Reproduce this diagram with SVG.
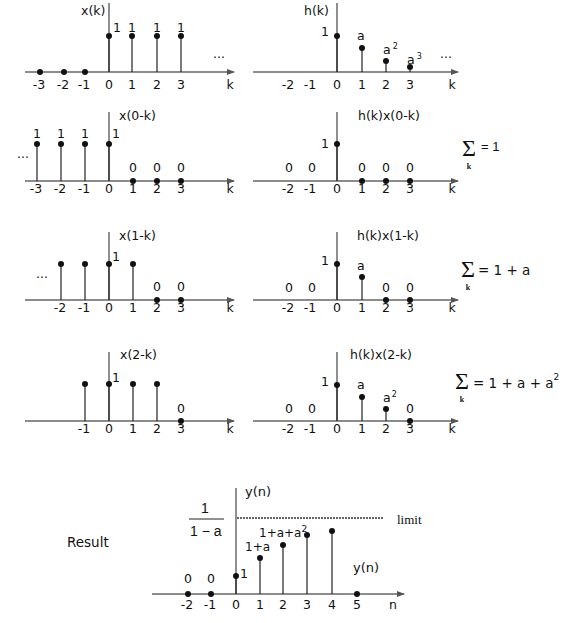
<svg xmlns="http://www.w3.org/2000/svg" width="568" height="623" viewBox="0 0 568 623">
<defs>
<marker id="arr" markerWidth="8" markerHeight="6" refX="7" refY="3" orient="auto" markerUnits="userSpaceOnUse">
<path d="M0,0 L8,3 L0,6 Z" fill="#555"/>
</marker>
<style>
.ax{stroke:#666;stroke-width:1.6;fill:none}
.yax{stroke:#444;stroke-width:1.2}
.st{stroke:#222;stroke-width:1.2}
.dot{fill:#111}
text{font-family:"DejaVu Sans","Liberation Sans",sans-serif;font-size:12.5px;fill:#111}
.m{text-anchor:middle}
.sup{font-size:8px}
.sig{font-family:"Liberation Serif",serif;font-size:24px}
.ks{font-family:"Liberation Serif",serif;font-size:8px;font-weight:bold;text-anchor:middle}
.eq{font-size:13.5px}
</style>
</defs>
<rect width="568" height="623" fill="#fff"/>

<g id="connectors">
<line class="ax" x1="25" y1="72" x2="234" y2="72" marker-end="url(#arr)"/>
<line class="ax" x1="253" y1="72" x2="458" y2="72" marker-end="url(#arr)"/>
<line class="ax" x1="25" y1="181" x2="234" y2="181" marker-end="url(#arr)"/>
<line class="ax" x1="253" y1="181" x2="458" y2="181" marker-end="url(#arr)"/>
<line class="ax" x1="25" y1="300" x2="234" y2="300" marker-end="url(#arr)"/>
<line class="ax" x1="253" y1="300" x2="458" y2="300" marker-end="url(#arr)"/>
<line class="ax" x1="25" y1="421" x2="234" y2="421" marker-end="url(#arr)"/>
<line class="ax" x1="253" y1="421" x2="458" y2="421" marker-end="url(#arr)"/>
<line class="ax" x1="152" y1="594" x2="404" y2="594" marker-end="url(#arr)"/>
</g>

<g id="panel-xk">
<line class="yax" x1="109" y1="3" x2="109" y2="72"/>
<text x="81" y="15">x(k)</text>
<line class="st" x1="109" y1="36" x2="109" y2="72"/><circle class="dot" cx="109" cy="36" r="3"/>
<line class="st" x1="132" y1="36" x2="132" y2="72"/><circle class="dot" cx="132" cy="36" r="3"/>
<line class="st" x1="157" y1="36" x2="157" y2="72"/><circle class="dot" cx="157" cy="36" r="3"/>
<line class="st" x1="181" y1="36" x2="181" y2="72"/><circle class="dot" cx="181" cy="36" r="3"/>
<circle class="dot" cx="40" cy="72" r="3"/><circle class="dot" cx="64" cy="72" r="3"/><circle class="dot" cx="85" cy="72" r="3"/>
<text x="113" y="32">1</text><text class="m" x="132" y="32">1</text><text class="m" x="157" y="32">1</text><text class="m" x="181" y="32">1</text>
<text x="213" y="58">...</text>
<text class="m" x="39" y="89">-3</text><text class="m" x="63" y="89">-2</text><text class="m" x="84" y="89">-1</text><text class="m" x="109" y="89">0</text><text class="m" x="132" y="89">1</text><text class="m" x="157" y="89">2</text><text class="m" x="181" y="89">3</text><text class="m" x="230" y="89">k</text>
</g>

<g id="panel-hk">
<line class="yax" x1="337" y1="3" x2="337" y2="72"/>
<text x="304" y="15">h(k)</text>
<line class="st" x1="337" y1="36" x2="337" y2="72"/><circle class="dot" cx="337" cy="36" r="3"/>
<line class="st" x1="362" y1="48" x2="362" y2="72"/><circle class="dot" cx="362" cy="48" r="3"/>
<line class="st" x1="386" y1="61" x2="386" y2="72"/><circle class="dot" cx="386" cy="61" r="3"/>
<line class="st" x1="410" y1="67" x2="410" y2="72"/><circle class="dot" cx="410" cy="67" r="3"/>
<text x="321" y="36">1</text>
<text x="357" y="40">a</text>
<text x="383" y="54">a<tspan class="sup" dy="-5" dx="2">2</tspan></text>
<text x="407" y="64">a<tspan class="sup" dy="-5" dx="2">3</tspan></text>
<text x="440" y="58">...</text>
<text class="m" x="288" y="89">-2</text><text class="m" x="310" y="89">-1</text><text class="m" x="337" y="89">0</text><text class="m" x="362" y="89">1</text><text class="m" x="386" y="89">2</text><text class="m" x="410" y="89">3</text><text class="m" x="452" y="89">k</text>
</g>

<g id="panel-x0k">
<line class="yax" x1="109" y1="112" x2="109" y2="181"/>
<text x="119" y="120">x(0-k)</text>
<line class="st" x1="37" y1="144" x2="37" y2="181"/><circle class="dot" cx="37" cy="144" r="3"/>
<line class="st" x1="61" y1="144" x2="61" y2="181"/><circle class="dot" cx="61" cy="144" r="3"/>
<line class="st" x1="85" y1="144" x2="85" y2="181"/><circle class="dot" cx="85" cy="144" r="3"/>
<line class="st" x1="109" y1="144" x2="109" y2="181"/><circle class="dot" cx="109" cy="144" r="3"/>
<circle class="dot" cx="133" cy="181" r="3"/><circle class="dot" cx="157" cy="181" r="3"/><circle class="dot" cx="181" cy="181" r="3"/>
<text class="m" x="37" y="138">1</text><text class="m" x="61" y="138">1</text><text class="m" x="85" y="138">1</text><text x="112" y="138">1</text>
<text class="m" x="133" y="172">0</text><text class="m" x="157" y="172">0</text><text class="m" x="181" y="172">0</text>
<text x="17" y="158">...</text>
<text class="m" x="36" y="193">-3</text><text class="m" x="60" y="193">-2</text><text class="m" x="84" y="193">-1</text><text class="m" x="109" y="193">0</text><text class="m" x="133" y="193">1</text><text class="m" x="157" y="193">2</text><text class="m" x="181" y="193">3</text><text class="m" x="230" y="193">k</text>
</g>

<g id="panel-h-x0k">
<line class="yax" x1="337" y1="112" x2="337" y2="181"/>
<text x="358" y="120">h(k)x(0-k)</text>
<line class="st" x1="337" y1="144" x2="337" y2="181"/><circle class="dot" cx="337" cy="144" r="3"/>
<circle class="dot" cx="362" cy="181" r="3"/><circle class="dot" cx="386" cy="181" r="3"/><circle class="dot" cx="410" cy="181" r="3"/>
<text x="321" y="148">1</text>
<text class="m" x="289" y="172">0</text><text class="m" x="312" y="172">0</text><text class="m" x="362" y="172">0</text><text class="m" x="386" y="172">0</text><text class="m" x="410" y="172">0</text>
<text class="m" x="288" y="193">-2</text><text class="m" x="310" y="193">-1</text><text class="m" x="337" y="193">0</text><text class="m" x="362" y="193">1</text><text class="m" x="386" y="193">2</text><text class="m" x="410" y="193">3</text><text class="m" x="452" y="193">k</text>
<text class="sig" x="462" y="156">Σ</text><text class="ks" x="469" y="169">k</text>
<text x="481" y="151" style="font-family:'Liberation Sans',sans-serif;font-size:13px">= 1</text>
</g>

<g id="panel-x1k">
<line class="yax" x1="109" y1="232" x2="109" y2="300"/>
<text x="119" y="240">x(1-k)</text>
<line class="st" x1="61" y1="264" x2="61" y2="300"/><circle class="dot" cx="61" cy="264" r="3"/>
<line class="st" x1="85" y1="264" x2="85" y2="300"/><circle class="dot" cx="85" cy="264" r="3"/>
<line class="st" x1="109" y1="264" x2="109" y2="300"/><circle class="dot" cx="109" cy="264" r="3"/>
<line class="st" x1="133" y1="264" x2="133" y2="300"/><circle class="dot" cx="133" cy="264" r="3"/>
<circle class="dot" cx="157" cy="300" r="3"/><circle class="dot" cx="181" cy="300" r="3"/>
<text x="112" y="261">1</text>
<text class="m" x="157" y="291">0</text><text class="m" x="181" y="291">0</text>
<text x="36" y="278">...</text>
<text class="m" x="60" y="312">-2</text><text class="m" x="84" y="312">-1</text><text class="m" x="109" y="312">0</text><text class="m" x="133" y="312">1</text><text class="m" x="157" y="312">2</text><text class="m" x="181" y="312">3</text><text class="m" x="230" y="312">k</text>
</g>

<g id="panel-h-x1k">
<line class="yax" x1="337" y1="232" x2="337" y2="300"/>
<text x="357" y="240">h(k)x(1-k)</text>
<line class="st" x1="337" y1="264" x2="337" y2="300"/><circle class="dot" cx="337" cy="264" r="3"/>
<line class="st" x1="362" y1="277" x2="362" y2="300"/><circle class="dot" cx="362" cy="277" r="3"/>
<circle class="dot" cx="386" cy="300" r="3"/><circle class="dot" cx="410" cy="300" r="3"/>
<text x="321" y="265">1</text>
<text x="357" y="270">a</text>
<text class="m" x="289" y="292">0</text><text class="m" x="312" y="292">0</text><text class="m" x="386" y="292">0</text><text class="m" x="410" y="292">0</text>
<text class="m" x="288" y="312">-2</text><text class="m" x="310" y="312">-1</text><text class="m" x="337" y="312">0</text><text class="m" x="362" y="312">1</text><text class="m" x="386" y="312">2</text><text class="m" x="410" y="312">3</text><text class="m" x="452" y="312">k</text>
<text class="sig" x="461" y="277">Σ</text><text class="ks" x="468" y="290">k</text>
<text class="eq" x="478" y="275">= 1 + a</text>
</g>

<g id="panel-x2k">
<line class="yax" x1="109" y1="352" x2="109" y2="421"/>
<text x="120" y="359">x(2-k)</text>
<line class="st" x1="85" y1="384" x2="85" y2="421"/><circle class="dot" cx="85" cy="384" r="3"/>
<line class="st" x1="109" y1="384" x2="109" y2="421"/><circle class="dot" cx="109" cy="384" r="3"/>
<line class="st" x1="133" y1="384" x2="133" y2="421"/><circle class="dot" cx="133" cy="384" r="3"/>
<line class="st" x1="157" y1="384" x2="157" y2="421"/><circle class="dot" cx="157" cy="384" r="3"/>
<circle class="dot" cx="181" cy="421" r="3"/>
<text x="112" y="382">1</text>
<text class="m" x="181" y="413">0</text>
<text class="m" x="84" y="433">-1</text><text class="m" x="109" y="433">0</text><text class="m" x="133" y="433">1</text><text class="m" x="157" y="433">2</text><text class="m" x="181" y="433">3</text><text class="m" x="230" y="433">k</text>
</g>

<g id="panel-h-x2k">
<line class="yax" x1="337" y1="352" x2="337" y2="421"/>
<text x="350" y="359">h(k)x(2-k)</text>
<line class="st" x1="337" y1="385" x2="337" y2="421"/><circle class="dot" cx="337" cy="385" r="3"/>
<line class="st" x1="362" y1="397" x2="362" y2="421"/><circle class="dot" cx="362" cy="397" r="3"/>
<line class="st" x1="386" y1="409" x2="386" y2="421"/><circle class="dot" cx="386" cy="409" r="3"/>
<circle class="dot" cx="410" cy="421" r="3"/>
<text x="321" y="386">1</text>
<text x="357" y="389">a</text>
<text x="383" y="402">a<tspan class="sup" dy="-5" dx="1">2</tspan></text>
<text class="m" x="289" y="413">0</text><text class="m" x="312" y="413">0</text><text class="m" x="410" y="413">0</text>
<text class="m" x="288" y="433">-2</text><text class="m" x="310" y="433">-1</text><text class="m" x="337" y="433">0</text><text class="m" x="362" y="433">1</text><text class="m" x="386" y="433">2</text><text class="m" x="410" y="433">3</text><text class="m" x="452" y="433">k</text>
<text class="sig" x="455" y="389">Σ</text><text class="ks" x="462" y="402">k</text>
<text class="eq" x="473" y="388">= 1 + a + a<tspan style="font-size:9px" dy="-8">2</tspan></text>
</g>

<g id="panel-result">
<text x="67" y="547" style="font-size:13.5px">Result</text>
<line class="yax" x1="236" y1="488" x2="236" y2="594"/>
<text x="245" y="496" style="font-size:13px">y(n)</text>
<text class="m" x="205" y="513" style="font-family:'Liberation Sans',sans-serif;font-size:14px">1</text>
<line x1="189" y1="519" x2="224" y2="519" stroke="#222" stroke-width="1"/>
<text x="190" y="536" style="font-family:'Liberation Sans',sans-serif;font-size:14px">1 − a</text>
<line x1="237" y1="518" x2="383" y2="518" stroke="#333" stroke-width="1.3" stroke-dasharray="2,1"/>
<text x="397" y="524" style="font-family:'Liberation Serif',serif;font-size:13px">limit</text>
<line class="st" x1="236" y1="576" x2="236" y2="594"/><circle class="dot" cx="236" cy="576" r="3"/>
<line class="st" x1="260" y1="558" x2="260" y2="594"/><circle class="dot" cx="260" cy="558" r="3"/>
<line class="st" x1="283" y1="545" x2="283" y2="594"/><circle class="dot" cx="283" cy="545" r="3"/>
<line class="st" x1="307" y1="535" x2="307" y2="594"/><circle class="dot" cx="307" cy="535" r="3"/>
<line class="st" x1="332" y1="531" x2="332" y2="594"/><circle class="dot" cx="332" cy="531" r="3"/>
<circle class="dot" cx="188" cy="594" r="3"/><circle class="dot" cx="211" cy="594" r="3"/><circle class="dot" cx="357" cy="594" r="3"/>
<text x="240" y="578">1</text>
<text x="245" y="551" style="font-size:12px">1+a</text>
<text x="259" y="537" style="font-size:12px">1+a+a<tspan style="font-size:9px" dy="-5">2</tspan></text>
<text class="m" x="188" y="583">0</text><text class="m" x="211" y="583">0</text>
<text x="353" y="572" style="font-size:13px">y(n)</text>
<text class="m" x="187" y="609">-2</text><text class="m" x="210" y="609">-1</text><text class="m" x="236" y="609">0</text><text class="m" x="260" y="609">1</text><text class="m" x="283" y="609">2</text><text class="m" x="307" y="609">3</text><text class="m" x="332" y="609">4</text><text class="m" x="357" y="609">5</text><text class="m" x="393" y="609">n</text>
</g>
</svg>
